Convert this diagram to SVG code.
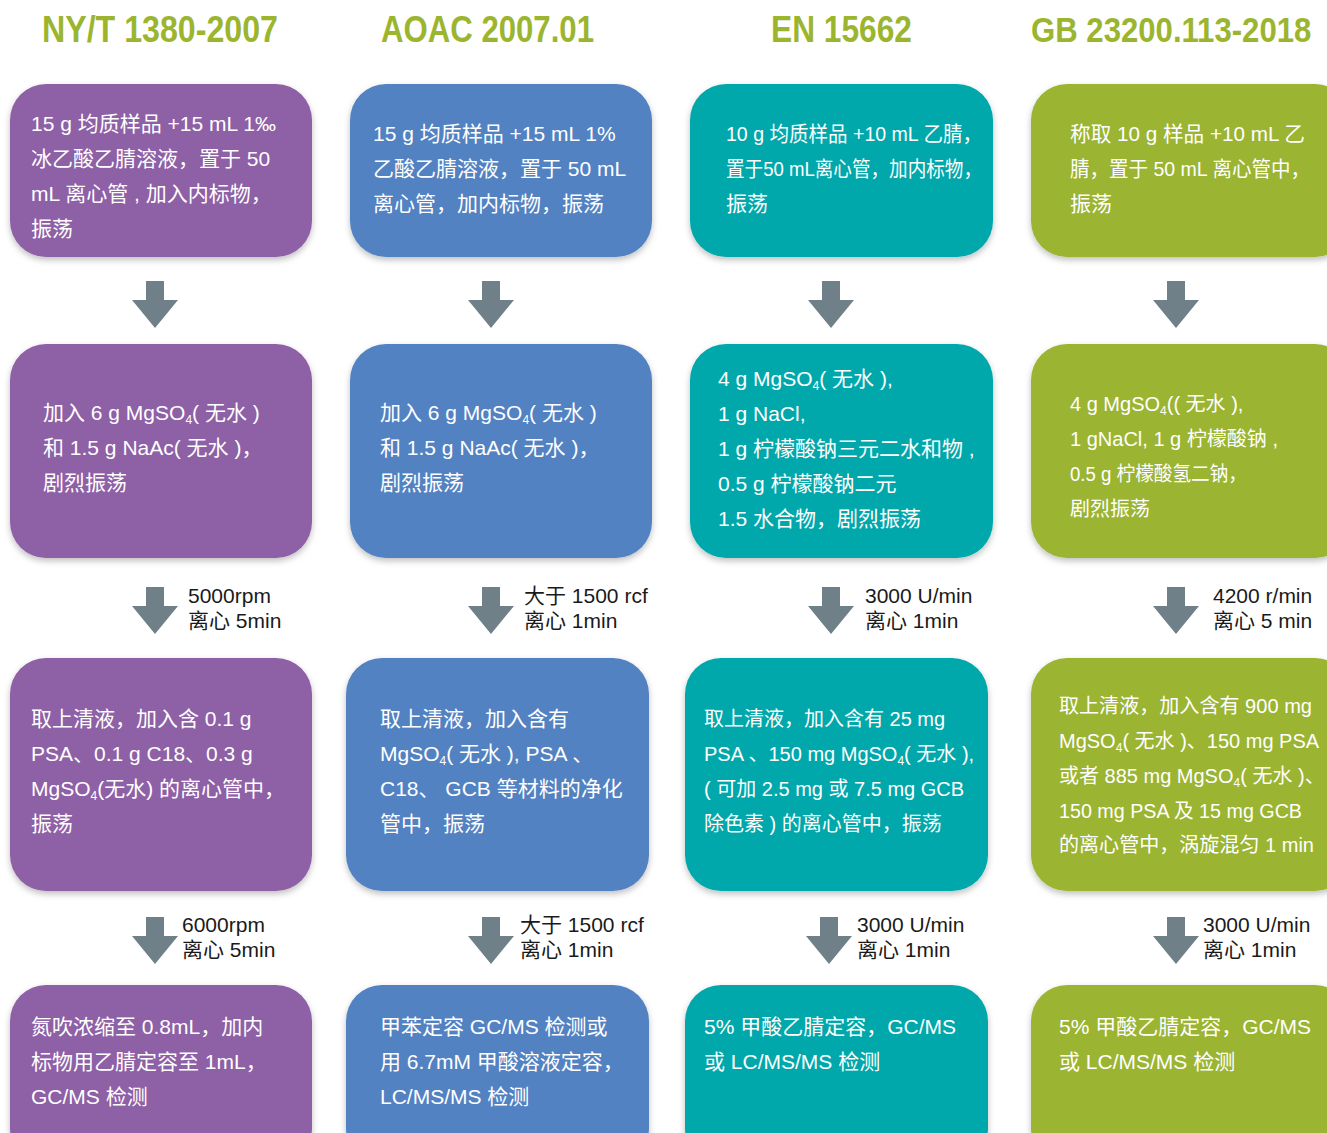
<svg xmlns="http://www.w3.org/2000/svg" width="1327" height="1133" viewBox="0 0 1327 1133">
<style>
.title{font-family:"Liberation Sans","Noto Sans CJK SC",sans-serif;font-weight:bold;font-size:36px;fill:#9bb52f;}
.t{font-family:"Liberation Sans","Noto Sans CJK SC",sans-serif;font-size:21px;fill:#ffffff;}
.s{font-size:20px;}
.lbl{font-family:"Liberation Sans","Noto Sans CJK SC",sans-serif;font-size:21px;fill:#1a1a1a;}
.sub{font-size:12px;}
.p{fill:#8e60a6;}
.b{fill:#5282c2;}
.c{fill:#00a8ab;}
.g{fill:#9bb431;}
.arr{fill:#6f8089;}
</style>
<defs>
<filter id="sh" x="-10%" y="-10%" width="120%" height="130%">
<feDropShadow dx="0" dy="3" stdDeviation="3" flood-color="#000" flood-opacity="0.25"/>
</filter>
<path id="ar" d="M-9,0 H9 V19 H23 L0,47 L-23,19 H-9 Z"/>
</defs>
<rect width="1327" height="1133" fill="#ffffff"/>

<g id="titles">
<text class="title" x="42" y="42" textLength="236" lengthAdjust="spacingAndGlyphs">NY/T 1380-2007</text>
<text class="title" x="381" y="42" textLength="213" lengthAdjust="spacingAndGlyphs">AOAC 2007.01</text>
<text class="title" x="771" y="42" textLength="141" lengthAdjust="spacingAndGlyphs">EN 15662</text>
<text class="title" transform="translate(1031,42) scale(0.865,1)" x="0" y="0">GB 23200.113-2018</text>
</g>

<g id="connectors">
<use href="#ar" class="arr" x="155" y="281"/>
<use href="#ar" class="arr" x="491" y="281"/>
<use href="#ar" class="arr" x="831" y="281"/>
<use href="#ar" class="arr" x="1176" y="281"/>
<use href="#ar" class="arr" x="155" y="587"/>
<use href="#ar" class="arr" x="491" y="587"/>
<use href="#ar" class="arr" x="831" y="587"/>
<use href="#ar" class="arr" x="1176" y="587"/>
<use href="#ar" class="arr" x="155" y="917"/>
<use href="#ar" class="arr" x="491" y="917"/>
<use href="#ar" class="arr" x="829" y="917"/>
<use href="#ar" class="arr" x="1176" y="917"/>
<text class="lbl" x="188" y="603">5000rpm</text>
<text class="lbl" x="188" y="628">离心 5min</text>
<text class="lbl" x="524" y="603">大于 1500 rcf</text>
<text class="lbl" x="524" y="628">离心 1min</text>
<text class="lbl" x="865" y="603">3000 U/min</text>
<text class="lbl" x="865" y="628">离心 1min</text>
<text class="lbl" x="1213" y="603">4200 r/min</text>
<text class="lbl" x="1213" y="628">离心 5 min</text>
<text class="lbl" x="182" y="932">6000rpm</text>
<text class="lbl" x="182" y="957">离心 5min</text>
<text class="lbl" x="520" y="932">大于 1500 rcf</text>
<text class="lbl" x="520" y="957">离心 1min</text>
<text class="lbl" x="857" y="932">3000 U/min</text>
<text class="lbl" x="857" y="957">离心 1min</text>
<text class="lbl" x="1203" y="932">3000 U/min</text>
<text class="lbl" x="1203" y="957">离心 1min</text>
</g>

<!-- Row 1 -->
<g id="n1a">
<rect class="p" x="10" y="84" width="302" height="173" rx="36" filter="url(#sh)"/>
<text class="t" x="31" y="131">15 g 均质样品 +15 mL 1‰</text>
<text class="t" x="31" y="166">冰乙酸乙腈溶液，置于 50</text>
<text class="t" x="31" y="201">mL 离心管 , 加入内标物，</text>
<text class="t" x="31" y="236">振荡</text>
</g>
<g id="n1b">
<rect class="b" x="350" y="84" width="302" height="173" rx="36" filter="url(#sh)"/>
<text class="t" x="373" y="141">15 g 均质样品 +15 mL 1%</text>
<text class="t" x="373" y="176">乙酸乙腈溶液，置于 50 mL</text>
<text class="t" x="373" y="211">离心管，加内标物，振荡</text>
</g>
<g id="n1c">
<rect class="c" x="690" y="84" width="303" height="173" rx="36" filter="url(#sh)"/>
<text class="t" x="726" y="141" textLength="256" lengthAdjust="spacingAndGlyphs">10 g 均质样品 +10 mL 乙腈，</text>
<text class="t" x="726" y="176" textLength="256" lengthAdjust="spacingAndGlyphs">置于50 mL离心管，加内标物，</text>
<text class="t" x="726" y="211">振荡</text>
</g>
<g id="n1d">
<rect class="g" x="1031" y="84" width="320" height="173" rx="36" filter="url(#sh)"/>
<text class="t" x="1070" y="141" textLength="235" lengthAdjust="spacingAndGlyphs">称取 10 g 样品 +10 mL 乙</text>
<text class="t" x="1070" y="176" textLength="240" lengthAdjust="spacingAndGlyphs">腈，置于 50 mL 离心管中，</text>
<text class="t" x="1070" y="211">振荡</text>
</g>

<!-- Row 2 -->
<g id="n2a">
<rect class="p" x="10" y="344" width="302" height="214" rx="36" filter="url(#sh)"/>
<text class="t" x="43" y="420">加入 6 g MgSO<tspan class="sub" dy="4">4</tspan><tspan dy="-4">( 无水 )</tspan></text>
<text class="t" x="43" y="455">和 1.5 g NaAc( 无水 )，</text>
<text class="t" x="43" y="490">剧烈振荡</text>
</g>
<g id="n2b">
<rect class="b" x="350" y="344" width="302" height="214" rx="36" filter="url(#sh)"/>
<text class="t" x="380" y="420">加入 6 g MgSO<tspan class="sub" dy="4">4</tspan><tspan dy="-4">( 无水 )</tspan></text>
<text class="t" x="380" y="455">和 1.5 g NaAc( 无水 )，</text>
<text class="t" x="380" y="490">剧烈振荡</text>
</g>
<g id="n2c">
<rect class="c" x="690" y="344" width="303" height="214" rx="36" filter="url(#sh)"/>
<text class="t" x="718" y="386">4 g MgSO<tspan class="sub" dy="4">4</tspan><tspan dy="-4">( 无水 ),</tspan></text>
<text class="t" x="718" y="421">1 g NaCl,</text>
<text class="t" x="718" y="456">1 g 柠檬酸钠三元二水和物 ,</text>
<text class="t" x="718" y="491">0.5 g 柠檬酸钠二元</text>
<text class="t" x="718" y="526">1.5 水合物，剧烈振荡</text>
</g>
<g id="n2d">
<rect class="g" x="1031" y="344" width="320" height="214" rx="36" filter="url(#sh)"/>
<text class="t s" x="1070" y="411">4 g MgSO<tspan class="sub" dy="4">4</tspan><tspan dy="-4">(( 无水 ),</tspan></text>
<text class="t s" x="1070" y="446" textLength="208" lengthAdjust="spacingAndGlyphs">1 gNaCl, 1 g 柠檬酸钠 ,</text>
<text class="t s" x="1070" y="481" textLength="177" lengthAdjust="spacingAndGlyphs">0.5 g 柠檬酸氢二钠，</text>
<text class="t s" x="1070" y="516">剧烈振荡</text>
</g>

<!-- Row 3 -->
<g id="n3a">
<rect class="p" x="10" y="658" width="302" height="233" rx="36" filter="url(#sh)"/>
<text class="t" x="31" y="726">取上清液，加入含 0.1 g</text>
<text class="t" x="31" y="761">PSA、0.1 g C18、0.3 g</text>
<text class="t" x="31" y="796">MgSO<tspan class="sub" dy="4">4</tspan><tspan dy="-4">(无水) 的离心管中，</tspan></text>
<text class="t" x="31" y="831">振荡</text>
</g>
<g id="n3b">
<rect class="b" x="346" y="658" width="303" height="233" rx="36" filter="url(#sh)"/>
<text class="t" x="380" y="726">取上清液，加入含有</text>
<text class="t" x="380" y="761">MgSO<tspan class="sub" dy="4">4</tspan><tspan dy="-4">( 无水 ), PSA 、</tspan></text>
<text class="t" x="380" y="796">C18、 GCB 等材料的净化</text>
<text class="t" x="380" y="831">管中，振荡</text>
</g>
<g id="n3c">
<rect class="c" x="685" y="658" width="303" height="233" rx="36" filter="url(#sh)"/>
<text class="t s" x="704" y="726">取上清液，加入含有 25 mg</text>
<text class="t s" x="704" y="761">PSA 、150 mg MgSO<tspan class="sub" dy="4">4</tspan><tspan dy="-4">( 无水 ),</tspan></text>
<text class="t s" x="704" y="796">( 可加 2.5 mg 或 7.5 mg GCB</text>
<text class="t s" x="704" y="831">除色素 ) 的离心管中，振荡</text>
</g>
<g id="n3d">
<rect class="g" x="1031" y="658" width="320" height="233" rx="36" filter="url(#sh)"/>
<text class="t s" x="1059" y="713" textLength="253" lengthAdjust="spacingAndGlyphs">取上清液，加入含有 900 mg</text>
<text class="t s" x="1059" y="748">MgSO<tspan class="sub" dy="4">4</tspan><tspan dy="-4">( 无水 )、150 mg PSA</tspan></text>
<text class="t s" x="1059" y="783">或者 885 mg MgSO<tspan class="sub" dy="4">4</tspan><tspan dy="-4">( 无水 )、</tspan></text>
<text class="t s" x="1059" y="818" textLength="243" lengthAdjust="spacingAndGlyphs">150 mg PSA 及 15 mg GCB</text>
<text class="t s" x="1059" y="852" textLength="255" lengthAdjust="spacingAndGlyphs">的离心管中，涡旋混匀 1 min</text>
</g>

<!-- Row 4 -->
<g id="n4a">
<rect class="p" x="10" y="985" width="302" height="180" rx="36" filter="url(#sh)"/>
<text class="t" x="31" y="1034">氮吹浓缩至 0.8mL，加内</text>
<text class="t" x="31" y="1069">标物用乙腈定容至 1mL，</text>
<text class="t" x="31" y="1104">GC/MS 检测</text>
</g>
<g id="n4b">
<rect class="b" x="346" y="985" width="303" height="180" rx="36" filter="url(#sh)"/>
<text class="t" x="380" y="1034">甲苯定容 GC/MS 检测或</text>
<text class="t" x="380" y="1069">用 6.7mM 甲酸溶液定容，</text>
<text class="t" x="380" y="1104">LC/MS/MS 检测</text>
</g>
<g id="n4c">
<rect class="c" x="685" y="985" width="303" height="180" rx="36" filter="url(#sh)"/>
<text class="t" x="704" y="1034">5% 甲酸乙腈定容，GC/MS</text>
<text class="t" x="704" y="1069">或 LC/MS/MS 检测</text>
</g>
<g id="n4d">
<rect class="g" x="1031" y="985" width="320" height="180" rx="36" filter="url(#sh)"/>
<text class="t" x="1059" y="1034">5% 甲酸乙腈定容，GC/MS</text>
<text class="t" x="1059" y="1069">或 LC/MS/MS 检测</text>
</g>
</svg>
